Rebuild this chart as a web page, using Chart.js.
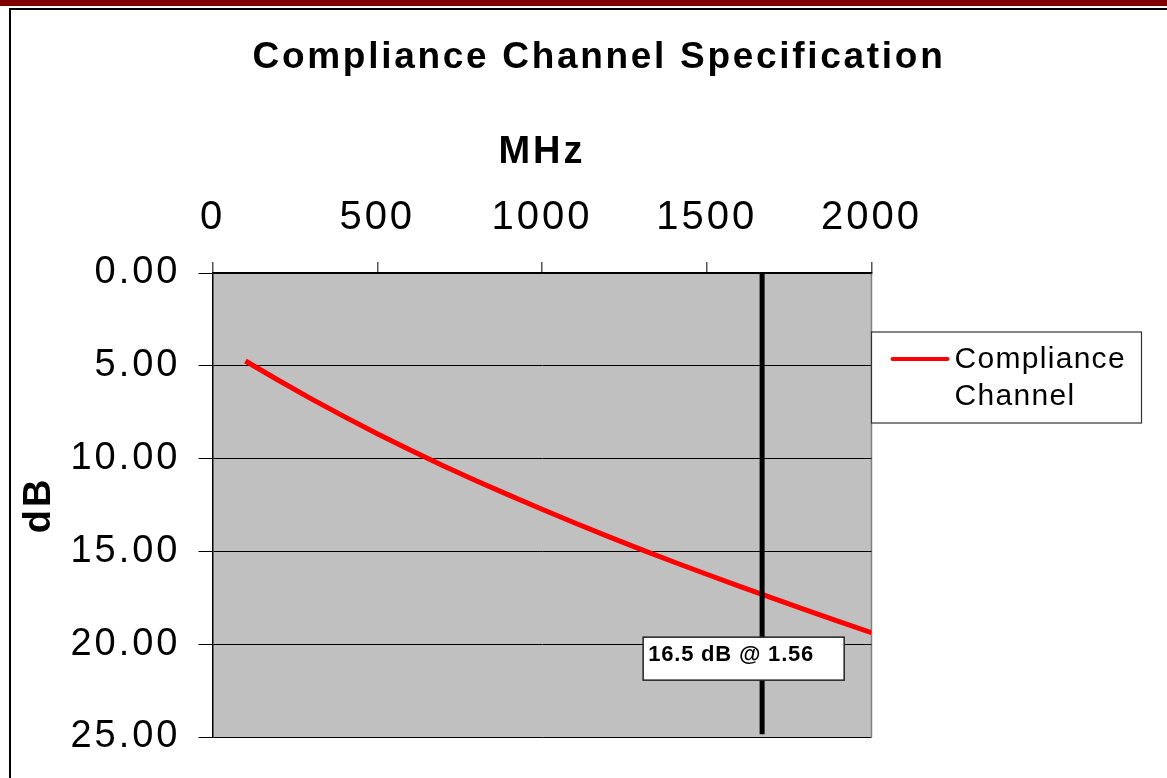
<!DOCTYPE html>
<html>
<head>
<meta charset="utf-8">
<title>Compliance Channel Specification</title>
<script src="https://cdn.jsdelivr.net/npm/chart.js@4.4.1/dist/chart.umd.min.js"></script>
<style>
  html, body { margin: 0; padding: 0; background: #fff; overflow: hidden; }
  .band { position: absolute; left: 0; top: 0; width: 1167px; height: 6px; background: #800000; }
  .frame { position: absolute; left: 9px; top: 8px; width: 1200px; height: 800px;
           border-left: 2px solid #000; border-top: 2px solid #000; }
  .wrap { position: absolute; left: 0; top: 0; width: 1167px; height: 778px; }
</style>
</head>
<body>
<div class="band"></div>
<div class="frame"></div>
<div class="wrap"><canvas id="chart" width="1167" height="778"></canvas></div>
<script>
// Compliance channel loss (dB) against frequency (MHz)
const freqMHz = [100, 200, 300, 400, 500, 600, 700, 800, 900, 1000,
                 1100, 1200, 1300, 1400, 1500, 1600, 1700, 1800, 1900, 2000];
const lossDb = [4.74, 5.78, 6.78, 7.74, 8.66, 9.54, 10.38, 11.19, 11.97, 12.73,
                13.47, 14.19, 14.89, 15.57, 16.23, 16.88, 17.52, 18.15, 18.77, 19.38];

// vertical marker line
const markerMHz = 1668;
const markerDb = [0, 24.85];

// axis ticks
const xTicks = [0, 500, 1000, 1500, 2000];
const yTicks = [0, 5, 10, 15, 20, 25];

// text note placed in data coordinates (top-left corner of its box)
const noteText = '16.5 dB @ 1.56';
const noteAt = { x: 1307, y: 19.62 };

const chartTitle = 'Compliance Channel Specification';
const FONT = "'Liberation Sans', Arial, Helvetica, sans-serif";
Chart.defaults.font.family = FONT;
Chart.defaults.color = '#000';

// grey plot background, letter spacing for library-drawn text
const backdrop = {
    id: 'backdrop',
    beforeDraw(chart) {
        const { ctx, chartArea: a } = chart;
        ctx.save();
        ctx.fillStyle = '#c0c0c0';
        ctx.fillRect(a.left, a.top, a.right - a.left, a.bottom - a.top);
        ctx.strokeStyle = '#808080';
        ctx.lineWidth = 1.5;
        ctx.beginPath();
        ctx.moveTo(a.right, a.top);
        ctx.lineTo(a.right, a.bottom);
        ctx.stroke();
        ctx.restore();
        ctx.letterSpacing = '3px';
    }
};

// title, legend box and the note
const overlay = {
    id: 'overlay',
    afterDraw(chart) {
        const { ctx, chartArea: a, scales } = chart;
        ctx.save();

        // title
        ctx.font = 'bold 37px ' + FONT;
        ctx.letterSpacing = '2.7px';
        ctx.fillStyle = '#000';
        ctx.textAlign = 'center';
        ctx.textBaseline = 'alphabetic';
        ctx.fillText(chartTitle, 599, 68);

        // legend
        const ds = chart.data.datasets[0];
        const lx = a.right, ly = 332, lw = 270, lh = 91;
        ctx.letterSpacing = '0px';
        ctx.fillStyle = '#fff';
        ctx.fillRect(lx, ly, lw, lh);
        ctx.strokeStyle = '#333';
        ctx.lineWidth = 1.2;
        ctx.strokeRect(lx, ly, lw, lh);
        ctx.strokeStyle = ds.borderColor;
        ctx.lineWidth = 4;
        ctx.lineCap = 'round';
        ctx.beginPath();
        ctx.moveTo(lx + 21, ly + 27);
        ctx.lineTo(lx + 76, ly + 27);
        ctx.stroke();
        ctx.font = '30px ' + FONT;
        ctx.letterSpacing = '1.3px';
        ctx.fillStyle = '#000';
        ctx.textAlign = 'left';
        ds.label.split(' ').forEach((word, i) => {
            ctx.fillText(word, lx + 83, ly + 36 + i * 36.5);
        });

        // note box
        const nx = scales.x.getPixelForValue(noteAt.x);
        const ny = scales.y.getPixelForValue(noteAt.y);
        ctx.letterSpacing = '0px';
        ctx.fillStyle = '#fff';
        ctx.fillRect(nx, ny, 201, 43);
        ctx.strokeStyle = '#222';
        ctx.lineWidth = 1.5;
        ctx.strokeRect(nx, ny, 201, 43);
        ctx.font = 'bold 22px ' + FONT;
        ctx.letterSpacing = '0.8px';
        ctx.fillStyle = '#000';
        ctx.fillText(noteText, nx + 5, ny + 24);
        ctx.restore();
    }
};

new Chart(document.getElementById('chart'), {
    type: 'line',
    data: {
        datasets: [
            {
                label: 'Compliance Channel',
                data: freqMHz.map((f, i) => ({ x: f, y: lossDb[i] })),
                borderColor: '#ff0000',
                borderWidth: 5,
                pointRadius: 0,
                tension: 0,
                order: 2
            },
            {
                label: 'marker',
                data: markerDb.map(v => ({ x: markerMHz, y: v })),
                borderColor: '#000',
                borderWidth: 5,
                pointRadius: 0,
                order: 1
            }
        ]
    },
    options: {
        responsive: false,
        animation: false,
        devicePixelRatio: 1,
        layout: { padding: { top: 0, left: 0, right: 295.5, bottom: 41 } },
        plugins: {
            legend: { display: false },
            title: { display: false },
            tooltip: { enabled: false }
        },
        scales: {
            x: {
                type: 'linear',
                position: 'top',
                min: 0,
                max: 2000,
                afterBuildTicks: s => { s.ticks = xTicks.map(v => ({ value: v })); },
                afterFit: s => { s.height = 273; },
                ticks: {
                    font: { size: 40 },
                    color: '#000',
                    padding: 20,
                    maxRotation: 0,
                    callback: v => String(v)
                },
                grid: { drawOnChartArea: false, tickLength: 11, color: '#555', lineWidth: 1.5 },
                border: { display: true, color: '#000', width: 1.5 },
                title: {
                    display: true,
                    text: 'MHz',
                    color: '#000',
                    font: { size: 38, weight: 'bold' },
                    padding: { top: 130, bottom: 0 }
                }
            },
            y: {
                type: 'linear',
                position: 'left',
                min: 0,
                max: 25,
                reverse: true,
                afterBuildTicks: s => { s.ticks = yTicks.map(v => ({ value: v })); },
                afterFit: s => { s.width = 212.5; },
                ticks: {
                    font: { size: 38 },
                    color: '#000',
                    padding: 18,
                    callback: v => Number(v).toFixed(2)
                },
                grid: { color: '#000', lineWidth: 1, tickLength: 14 },
                border: { display: true, color: '#000', width: 1.5 },
                title: {
                    display: true,
                    text: 'dB',
                    color: '#000',
                    font: { size: 38, weight: 'bold' },
                    padding: { top: 17, bottom: 0 }
                }
            }
        }
    },
    plugins: [backdrop, overlay]
});
</script>
</body>
</html>
